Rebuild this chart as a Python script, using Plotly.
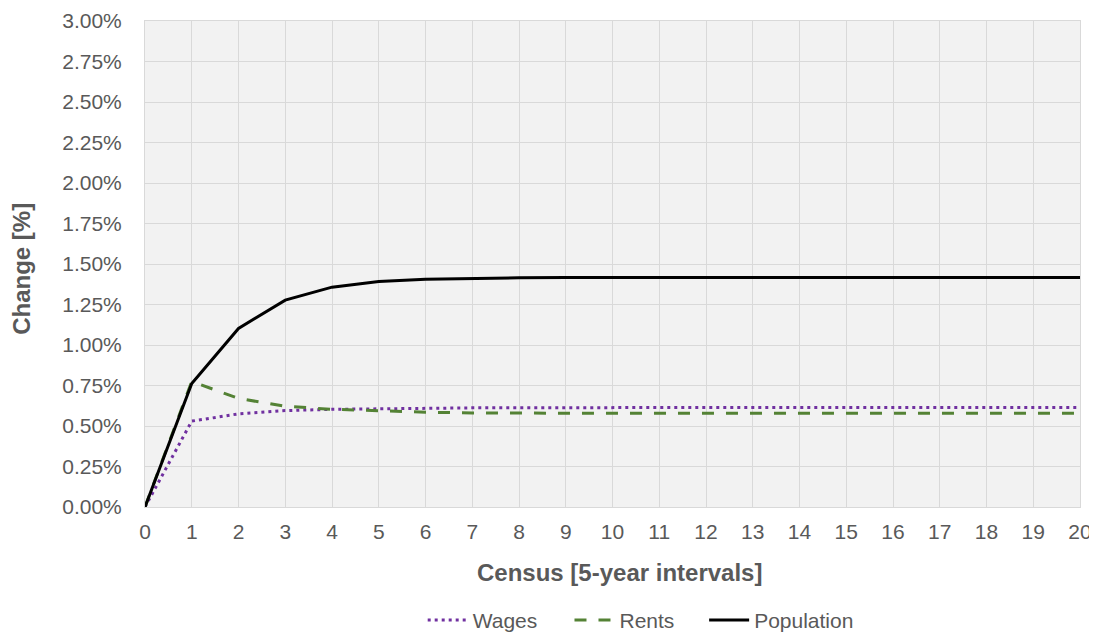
import plotly.graph_objects as go

census = list(range(21))

wages = [0.0, 0.53, 0.575, 0.595, 0.603, 0.607, 0.61, 0.612, 0.613, 0.614, 0.614,
         0.614, 0.614, 0.614, 0.614, 0.614, 0.614, 0.614, 0.614, 0.614, 0.614]
rents = [0.0, 0.775, 0.67, 0.622, 0.603, 0.593, 0.585, 0.581, 0.579, 0.578, 0.578,
         0.578, 0.578, 0.578, 0.578, 0.578, 0.578, 0.578, 0.578, 0.578, 0.578]
population = [0.0, 0.762, 1.102, 1.277, 1.357, 1.392, 1.406, 1.412, 1.415, 1.416, 1.416,
              1.416, 1.416, 1.416, 1.416, 1.416, 1.416, 1.416, 1.416, 1.416, 1.416]

y_ticks = [0.0, 0.25, 0.5, 0.75, 1.0, 1.25, 1.5, 1.75, 2.0, 2.25, 2.5, 2.75, 3.0]
y_labels = ["0.00%", "0.25%", "0.50%", "0.75%", "1.00%", "1.25%", "1.50%",
            "1.75%", "2.00%", "2.25%", "2.50%", "2.75%", "3.00%"]

grey = "#595959"

fig = go.Figure()

fig.add_trace(go.Scatter(
    x=census, y=wages, name="Wages", mode="lines", legend="legend",
    line=dict(color="#7030A0", width=3, dash="3px,4px")
))
fig.add_trace(go.Scatter(
    x=census, y=rents, name="Rents", mode="lines", legend="legend2",
    line=dict(color="#548235", width=3, dash="12px,12px")
))
fig.add_trace(go.Scatter(
    x=census, y=population, name="Population", mode="lines", legend="legend3",
    line=dict(color="#000000", width=3)
))


def legend_at(x):
    return dict(
        orientation="h", x=x, xanchor="left", y=-0.233, yanchor="middle",
        font=dict(size=21, color=grey), itemwidth=40, bgcolor="rgba(0,0,0,0)",
    )


fig.update_layout(
    width=1097,
    height=635,
    paper_bgcolor="white",
    plot_bgcolor="#F2F2F2",
    font=dict(family="Liberation Sans, Arial, sans-serif", size=21, color=grey),
    margin=dict(l=137, r=25, t=13, b=136, autoexpand=False),
    showlegend=True,
    legend=legend_at(0.297),
    legend2=legend_at(0.454),
    legend3=legend_at(0.598),
    xaxis=dict(
        range=[0, 20], dtick=1, tick0=0, automargin=False,
        showgrid=True, gridcolor="#D9D9D9", gridwidth=1,
        zeroline=False, showline=True, linecolor="#D9D9D9", mirror=True,
        ticks="outside", ticklen=6, tickcolor="rgba(0,0,0,0)",
    ),
    yaxis=dict(
        range=[0, 3], tickvals=y_ticks, ticktext=y_labels, automargin=False,
        ticklabeloverflow="allow",
        showgrid=True, gridcolor="#D9D9D9", gridwidth=1,
        zeroline=False, showline=True, linecolor="#D9D9D9", mirror=True,
        ticks="outside", ticklen=18, tickcolor="rgba(0,0,0,0)",
    ),
    annotations=[
        dict(text="<b>Census [5-year intervals]</b>", xref="paper", yref="paper",
             x=0.508, y=-0.134, xanchor="center", yanchor="middle", showarrow=False,
             font=dict(size=24, color=grey)),
        dict(text="<b>Change [%]</b>", xref="paper", yref="paper",
             x=-0.1316, y=0.49, xanchor="center", yanchor="middle", showarrow=False,
             textangle=-90, font=dict(size=24, color=grey)),
    ],
)

fig.write_html("out.html")
